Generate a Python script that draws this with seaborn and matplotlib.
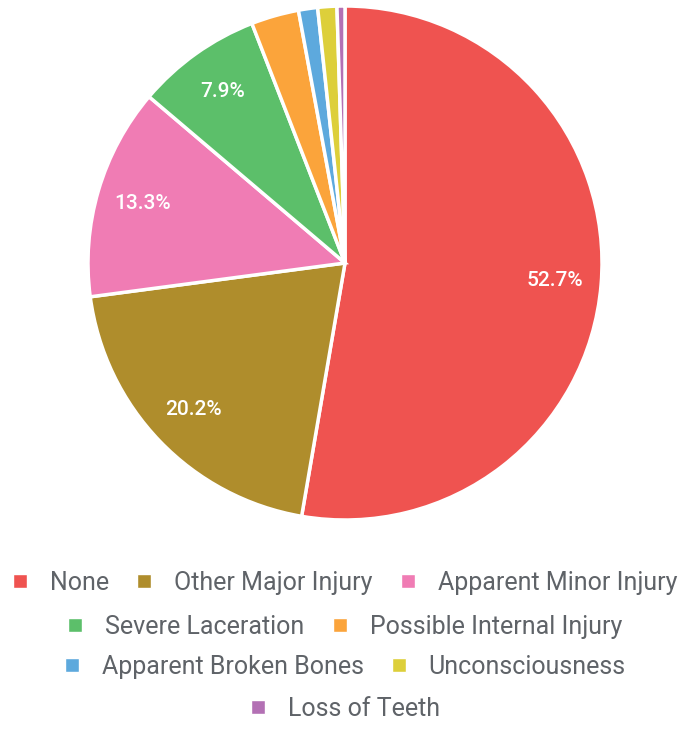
import matplotlib.pyplot as plt
import seaborn as sns
from matplotlib.lines import Line2D

sns.set_theme(style="white")
plt.rcParams['font.family'] = ['Roboto', 'DejaVu Sans']

# Data
categories = ['None', 'Other Major Injury', 'Apparent Minor Injury', 'Severe Laceration',
              'Possible Internal Injury', 'Apparent Broken Bones', 'Unconsciousness',
              'Loss of Teeth']
shares = [52.7, 20.2, 13.3, 7.9, 3.0, 1.2, 1.2, 0.5]
colors = ['#EF5350', '#AF8D2C', '#F07CB4', '#5CBF6A', '#FBA43B', '#5DA9DD',
          '#DDCF3A', '#B370B4']

fig = plt.figure(figsize=(6.85, 7.29), dpi=100)
ax = fig.add_axes([88 / 685, 1 - 520 / 729, 514 / 685, 514 / 729])

def fmt(p):
    return f'{p:.1f}%' if p > 5 else ''

wedges, texts, autotexts = ax.pie(
    shares, colors=colors, startangle=90, counterclock=False,
    autopct=fmt, pctdistance=0.82,
    wedgeprops=dict(edgecolor='white', linewidth=2.5),
    textprops=dict(color='white', fontsize=15, fontweight='medium'))
ax.set_xlim(-1, 1)
ax.set_ylim(-1, 1)
ax.set_aspect('equal')

# Legend rows, centered like the original
rows = [[0, 1, 2], [3, 4], [5, 6], [7]]
row_y = [583, 627, 667, 709]
for idx, y in zip(rows, row_y):
    handles = [Line2D([0], [0], marker='s', linestyle='none', markersize=10,
                      markerfacecolor=colors[i], markeredgecolor='white')
               for i in idx]
    leg = fig.legend(handles, [categories[i] for i in idx], loc='center',
                     bbox_to_anchor=(0.5, 1 - y / 729), ncol=len(idx),
                     frameon=False, fontsize=18, handletextpad=0.7,
                     columnspacing=0.9, handlelength=1.0, borderaxespad=0)
    for t in leg.get_texts():
        t.set_color('#5F6368')

fig.savefig('out.png', dpi=100)
